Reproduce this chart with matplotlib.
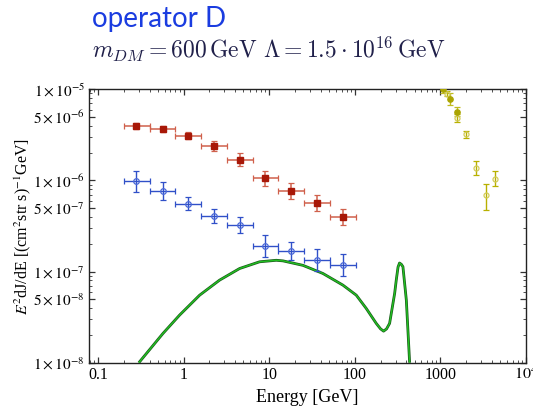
import matplotlib
matplotlib.use('Agg')
import matplotlib.pyplot as plt
import numpy as np
from matplotlib.ticker import FixedLocator, FixedFormatter, NullFormatter

# ---------------- data ----------------
bin_center = [0.28, 0.57, 1.13, 2.26, 4.5, 9.0, 18.0, 36.0, 72.0]
bin_lo = [0.2, 0.4, 0.8, 1.6, 3.2, 6.4, 12.8, 25.6, 51.2]
bin_hi = [0.4, 0.8, 1.6, 3.2, 6.4, 12.8, 25.6, 51.2, 102.4]

red_y = [4.0e-6, 3.67e-6, 3.1e-6, 2.39e-6, 1.69e-6, 1.06e-6, 7.6e-7, 5.67e-7, 4.0e-7]
red_lo = [3.70e-6, 3.40e-6, 2.82e-6, 2.12e-6, 1.44e-6, 8.76e-7, 6.23e-7, 4.65e-7, 3.25e-7]
red_hi = [4.32e-6, 3.96e-6, 3.41e-6, 2.69e-6, 1.98e-6, 1.28e-6, 9.27e-7, 6.92e-7, 4.92e-7]

blue_y = [9.8e-7, 7.6e-7, 5.58e-7, 4.12e-7, 3.28e-7, 1.9e-7, 1.70e-7, 1.33e-7, 1.17e-7]
blue_lo = [7.48e-7, 6.06e-7, 4.68e-7, 3.45e-7, 2.68e-7, 1.44e-7, 1.35e-7, 1.01e-7, 8.86e-8]
blue_hi = [1.28e-6, 9.54e-7, 6.66e-7, 4.92e-7, 4.01e-7, 2.51e-7, 2.13e-7, 1.76e-7, 1.54e-7]

yel_fill_E = [1070, 1306, 1560]
yel_fill_y = [1.02e-5, 7.9e-6, 5.69e-6]
yel_fill_lo = [9.2e-6, 6.81e-6, 5.04e-6]
yel_fill_hi = [1.1e-5, 9.16e-6, 6.43e-6]

yel_open_E = [1191, 1560, 1987, 2600, 3372, 4375]
yel_open_y = [8.97e-6, 4.9e-6, 3.2e-6, 1.38e-6, 7.0e-7, 1.05e-6]
yel_open_lo = [8.46e-6, 4.43e-6, 2.91e-6, 1.16e-6, 4.71e-7, 8.68e-7]
yel_open_hi = [9.5e-6, 5.42e-6, 3.52e-6, 1.64e-6, 9.03e-7, 1.27e-6]

green_E = [0.30, 0.573, 0.898, 1.54, 2.63, 4.51, 7.72, 12.1, 14.5, 24.8, 42.4,
           72.6, 104, 136, 178, 200, 217, 235, 255, 292, 305, 320, 333, 350,
           365, 400, 437]
green_y = [1.0e-8, 2.09e-8, 3.33e-8, 5.51e-8, 8.05e-8, 1.08e-7, 1.28e-7, 1.33e-7,
           1.31e-7, 1.17e-7, 9.53e-8, 7.1e-8, 5.51e-8, 3.94e-8, 2.70e-8, 2.35e-8,
           2.22e-8, 2.35e-8, 2.70e-8, 5.75e-8, 8.05e-8, 1.12e-7, 1.24e-7, 1.2e-7,
           1.13e-7, 4.86e-8, 1.0e-8]

xtick_vals = [0.1, 1, 10, 100, 1000, 10000]
xtick_labels = ['0.1', '1', '10', '100', '1000', r'$10^4$']
ytick_vals = [1e-8, 5e-8, 1e-7, 5e-7, 1e-6, 5e-6, 1e-5]
ytick_labels = [r'$1\times10^{-8}$', r'$5\times10^{-8}$', r'$1\times10^{-7}$',
                r'$5\times10^{-7}$', r'$1\times10^{-6}$', r'$5\times10^{-6}$',
                r'$1\times10^{-5}$']

# ---------------- figure ----------------
fig = plt.figure(figsize=(5.33, 4.12), dpi=100)
ax = fig.add_axes([89/533, 1-362.7/412, (526-89)/533, (362.7-89.3)/412])
ax.set_xscale('log')
ax.set_yscale('log')
ax.set_xlim(0.0785, 1e4)
ax.set_ylim(1e-8, 1e-5)

def errs(y, lo, hi):
    y = np.asarray(y); lo = np.asarray(lo); hi = np.asarray(hi)
    return [y - lo, hi - y]

xerr = [np.asarray(bin_center) - np.asarray(bin_lo), np.asarray(bin_hi) - np.asarray(bin_center)]

# red (filled squares)
ax.errorbar(bin_center, red_y, yerr=errs(red_y, red_lo, red_hi), xerr=xerr,
            fmt='s', ms=3.8, color='#a81808', mec='#a81808', ecolor='#d0604c',
            elinewidth=1.1, capsize=2.0, capthick=0.9, zorder=4)
# blue (open circles)
ax.errorbar(bin_center, blue_y, yerr=errs(blue_y, blue_lo, blue_hi), xerr=xerr,
            fmt='o', ms=4.0, mfc='none', mec='#4a68d8', mew=0.9, ecolor='#3050c8',
            elinewidth=1.0, capsize=2.0, capthick=0.9, zorder=4)

# yellow
ax.errorbar(yel_open_E, yel_open_y, yerr=errs(yel_open_y, yel_open_lo, yel_open_hi),
            fmt='o', ms=3.6, mfc='none', mec='#d2cc5a', mew=0.9, ecolor='#b8b000',
            elinewidth=1.0, capsize=2.0, capthick=0.9, zorder=4)
ax.errorbar(yel_fill_E, yel_fill_y, yerr=errs(yel_fill_y, yel_fill_lo, yel_fill_hi),
            fmt='o', ms=3.8, color='#aaa400', ecolor='#c0ba20',
            elinewidth=1.0, capsize=2.0, capthick=0.9, zorder=4)

# green curve
ax.plot(green_E, green_y, color='#1a5a1a', lw=2.0, solid_capstyle='butt', zorder=3)
ax.plot(green_E, green_y, color='#22c022', lw=1.0, solid_capstyle='butt', zorder=3)

# ticks
ax.xaxis.set_major_locator(FixedLocator(xtick_vals))
ax.xaxis.set_major_formatter(FixedFormatter(xtick_labels))
ax.yaxis.set_major_locator(FixedLocator(ytick_vals))
ax.yaxis.set_major_formatter(FixedFormatter(ytick_labels))
ax.xaxis.set_minor_formatter(NullFormatter())
ax.yaxis.set_minor_formatter(NullFormatter())
for lab in ax.get_xticklabels():
    lab.set_fontfamily('Liberation Serif')
    lab.set_fontsize(11.5)
    lab.set_math_fontfamily('stix')
for lab in ax.get_yticklabels():
    lab.set_fontfamily('Liberation Serif')
    lab.set_fontsize(11)
    lab.set_math_fontfamily('stix')

ax.tick_params(which='both', direction='in', top=True, right=True, color='#333333')
ax.tick_params(which='major', length=4.5, width=0.9, pad=3)
ax.tick_params(which='minor', length=2.2, width=0.6)
for s in ax.spines.values():
    s.set_linewidth(1.0)
    s.set_color('#222222')

ax.set_xlabel('Energy [GeV]', fontfamily='Liberation Serif', fontsize=13, labelpad=4)
ax.set_ylabel(r'$E^2$dJ/dE [(cm$^2$str s)$^{-1}$GeV]', fontfamily='Liberation Serif',
              fontsize=11.5, labelpad=0, math_fontfamily='stix')

# titles
fig.text(92/533, 1-27/412, 'operator D', fontfamily='Lato', fontsize=20,
         color='#1a3ce0', va='baseline', ha='left')
fig.text(92/533, 1-58/412,
         r'$m_{DM} = 600\,\mathrm{GeV}\ \Lambda = 1.5\cdot 10^{16}\,\mathrm{GeV}$',
         fontsize=17, color='#20204a', va='baseline', ha='left', math_fontfamily='cm')

fig.savefig('out.png', dpi=100)
